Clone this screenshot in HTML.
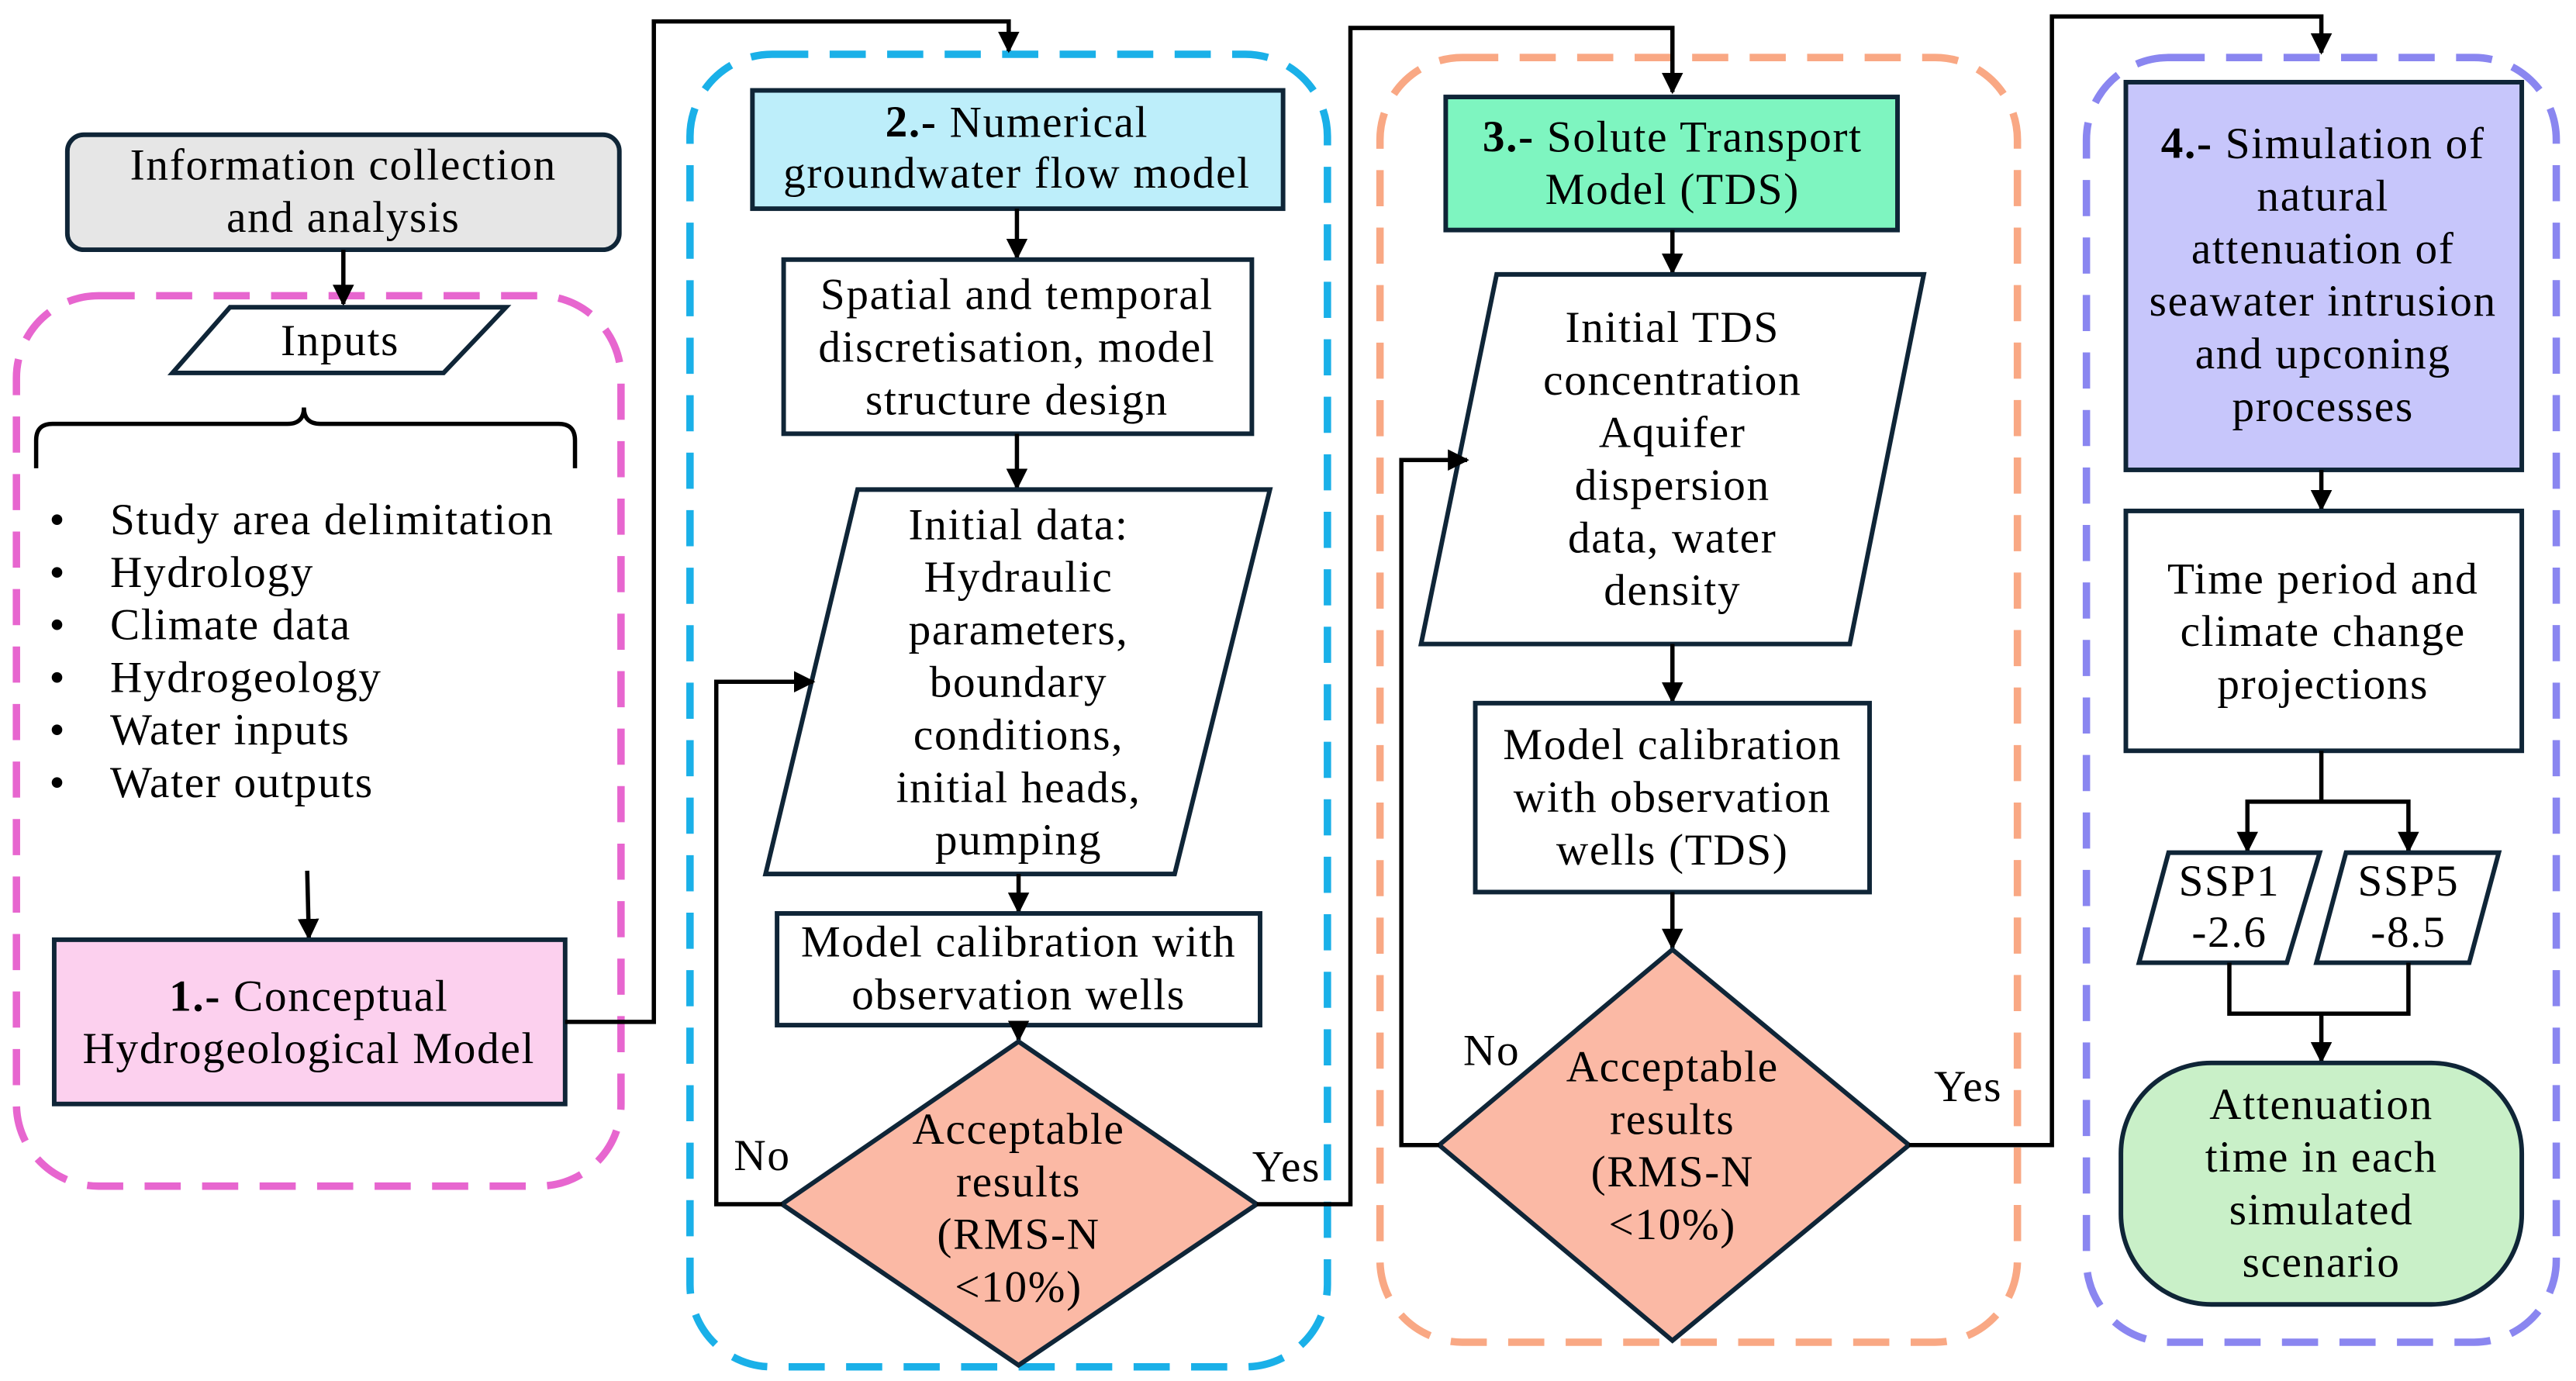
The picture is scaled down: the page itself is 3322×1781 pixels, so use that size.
<!DOCTYPE html>
<html><head><meta charset="utf-8"><style>
html,body{margin:0;padding:0;background:#fff;}
svg{display:block;}
text{font-family:"Liberation Serif",serif;font-size:27px;letter-spacing:0.8px;fill:#000;text-anchor:middle;dominant-baseline:middle;transform:translateY(2px);}
.s{stroke:#0f2537;stroke-width:2.8;}
.l{stroke:#000;stroke-width:2.6;fill:none;}
.d{fill:none;stroke-width:4.5;stroke-dasharray:22 13;}
</style></head><body>
<svg width="3322" height="1781" viewBox="0 0 1568 840.6" xmlns="http://www.w3.org/2000/svg">
<defs><marker id="a" viewBox="0 0 10 10" refX="9" refY="5" markerWidth="5" markerHeight="5" orient="auto"><path d="M0,0L10,5L0,10z" fill="#000"/></marker></defs>

<rect x="10" y="180" width="368" height="542" rx="50" class="d" stroke="#e766cf"/>
<rect x="420" y="33" width="388" height="799" rx="50" class="d" stroke="#1ab0e8"/>
<rect x="840" y="35" width="388" height="782" rx="50" class="d" stroke="#f9a884"/>
<rect x="1270" y="35" width="286" height="782" rx="50" class="d" stroke="#8a86f0"/>

<rect x="41" y="82" width="336" height="70" rx="10" fill="#e6e6e6" class="s"/>
<text x="209" y="101">Information collection</text>
<text x="209" y="133">and analysis</text>
<line x1="209" y1="152" x2="209" y2="185" class="l" marker-end="url(#a)"/>
<polygon points="140,187 308,187 270,227 105,227" fill="#fff" class="s"/>
<text x="207" y="208">Inputs</text>
<path d="M22,285 L22,268 Q22,258 32,258 L175,258 Q185,258 185,248 Q185,258 195,258 L340,258 Q350,258 350,268 L350,285" class="l"/>
<text x="30" y="317" style="text-anchor:start">•</text><text x="67" y="317" style="text-anchor:start">Study area delimitation</text>
<text x="30" y="349" style="text-anchor:start">•</text><text x="67" y="349" style="text-anchor:start">Hydrology</text>
<text x="30" y="381" style="text-anchor:start">•</text><text x="67" y="381" style="text-anchor:start">Climate data</text>
<text x="30" y="413" style="text-anchor:start">•</text><text x="67" y="413" style="text-anchor:start">Hydrogeology</text>
<text x="30" y="445" style="text-anchor:start">•</text><text x="67" y="445" style="text-anchor:start">Water inputs</text>
<text x="30" y="477" style="text-anchor:start">•</text><text x="67" y="477" style="text-anchor:start">Water outputs</text>
<line x1="187" y1="530" x2="188" y2="571" class="l" marker-end="url(#a)"/>
<rect x="33" y="572" width="311" height="100" fill="#fcd0ee" class="s"/>
<text x="188" y="607"><tspan font-weight="bold">1.-</tspan> Conceptual</text>
<text x="188" y="639">Hydrogeological Model</text>
<polyline points="344,622 398,622 398,13 614,13 614,31" class="l" marker-end="url(#a)"/>

<rect x="458" y="55" width="323" height="72" fill="#bdeefa" class="s"/>
<text x="619" y="75"><tspan font-weight="bold">2.-</tspan> Numerical</text>
<text x="619" y="106">groundwater flow model</text>
<line x1="619" y1="127" x2="619" y2="157" class="l" marker-end="url(#a)"/>
<rect x="477" y="158" width="285" height="106" fill="#fff" class="s"/>
<text x="619" y="180">Spatial and temporal</text>
<text x="619" y="212">discretisation, model</text>
<text x="619" y="244">structure design</text>
<line x1="619" y1="264" x2="619" y2="297" class="l" marker-end="url(#a)"/>
<polygon points="522,298 773,298 715,532 466,532" fill="#fff" class="s"/>
<text x="620" y="320">Initial data:</text>
<text x="620" y="352">Hydraulic</text>
<text x="620" y="384">parameters,</text>
<text x="620" y="416">boundary</text>
<text x="620" y="448">conditions,</text>
<text x="620" y="480">initial heads,</text>
<text x="620" y="512">pumping</text>
<line x1="620" y1="532" x2="620" y2="555" class="l" marker-end="url(#a)"/>
<rect x="473" y="556" width="294" height="68" fill="#fff" class="s"/>
<text x="620" y="574">Model calibration with</text>
<text x="620" y="606">observation wells</text>
<line x1="620" y1="624" x2="620" y2="633" class="l" marker-end="url(#a)"/>
<polygon points="620,634 765,733 620,831 476,733" fill="#fbb9a5" class="s"/>
<text x="620" y="688">Acceptable</text>
<text x="620" y="720">results</text>
<text x="620" y="752">(RMS-N</text>
<text x="620" y="784">&lt;10%)</text>
<polyline points="476,733 436,733 436,415 495,415" class="l" marker-end="url(#a)"/>
<text x="464" y="704">No</text>
<text x="783" y="711">Yes</text>
<polyline points="765,733 822,733 822,17 1018,17 1018,56" class="l" marker-end="url(#a)"/>

<rect x="880" y="59" width="275" height="81" fill="#7ef5c0" class="s"/>
<text x="1018" y="84"><tspan font-weight="bold">3.-</tspan> Solute Transport</text>
<text x="1018" y="116">Model (TDS)</text>
<line x1="1018" y1="140" x2="1018" y2="166" class="l" marker-end="url(#a)"/>
<polygon points="911,167 1171,167 1126,392 865,392" fill="#fff" class="s"/>
<text x="1018" y="200">Initial TDS</text>
<text x="1018" y="232">concentration</text>
<text x="1018" y="264">Aquifer</text>
<text x="1018" y="296">dispersion</text>
<text x="1018" y="328">data, water</text>
<text x="1018" y="360">density</text>
<line x1="1018" y1="392" x2="1018" y2="427" class="l" marker-end="url(#a)"/>
<rect x="898" y="428" width="240" height="115" fill="#fff" class="s"/>
<text x="1018" y="454">Model calibration</text>
<text x="1018" y="486">with observation</text>
<text x="1018" y="518">wells (TDS)</text>
<line x1="1018" y1="543" x2="1018" y2="577" class="l" marker-end="url(#a)"/>
<polygon points="1018,578 1162,697 1018,816 876,697" fill="#fbb9a5" class="s"/>
<text x="1018" y="650">Acceptable</text>
<text x="1018" y="682">results</text>
<text x="1018" y="714">(RMS-N</text>
<text x="1018" y="746">&lt;10%)</text>
<polyline points="876,697 853,697 853,280 893,280" class="l" marker-end="url(#a)"/>
<text x="908" y="640">No</text>
<text x="1198" y="662">Yes</text>
<polyline points="1162,697 1249,697 1249,10 1413,10 1413,32" class="l" marker-end="url(#a)"/>

<rect x="1294" y="50" width="241" height="236" fill="#c7c6fb" class="s"/>
<text x="1414" y="88"><tspan font-weight="bold">4.-</tspan> Simulation of</text>
<text x="1414" y="120">natural</text>
<text x="1414" y="152">attenuation of</text>
<text x="1414" y="184">seawater intrusion</text>
<text x="1414" y="216">and upconing</text>
<text x="1414" y="248">processes</text>
<line x1="1413" y1="286" x2="1413" y2="310" class="l" marker-end="url(#a)"/>
<rect x="1294" y="311" width="241" height="146" fill="#fff" class="s"/>
<text x="1414" y="353">Time period and</text>
<text x="1414" y="385">climate change</text>
<text x="1414" y="417">projections</text>
<polyline points="1413,457 1413,488" class="l"/>
<polyline points="1368,518 1368,488 1466,488 1466,518" class="l"/>
<line x1="1368" y1="510" x2="1368" y2="518" class="l" marker-end="url(#a)"/>
<line x1="1466" y1="510" x2="1466" y2="518" class="l" marker-end="url(#a)"/>
<polygon points="1320,519 1412,519 1392,586 1302,586" fill="#fff" class="s"/>
<text x="1357" y="537">SSP1</text>
<text x="1357" y="568">-2.6</text>
<polygon points="1428,519 1521,519 1503,586 1410,586" fill="#fff" class="s"/>
<text x="1466" y="537">SSP5</text>
<text x="1466" y="568">-8.5</text>
<polyline points="1357,586 1357,617 1466,617 1466,586" class="l"/>
<line x1="1413" y1="617" x2="1413" y2="646" class="l" marker-end="url(#a)"/>
<rect x="1291" y="647" width="244" height="147" rx="55" fill="#c9f0c8" class="s"/>
<text x="1413" y="673">Attenuation</text>
<text x="1413" y="705">time in each</text>
<text x="1413" y="737">simulated</text>
<text x="1413" y="769">scenario</text>
</svg>
</body></html>
